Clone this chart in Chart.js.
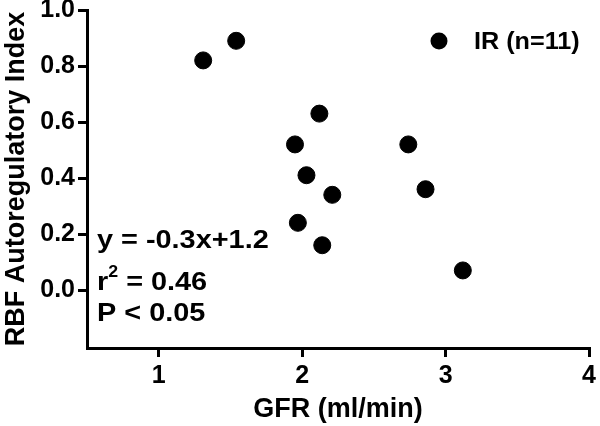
<!DOCTYPE html>
<html lang="en">
<head>
    <meta charset="UTF-8">
    <title>RBF Autoregulatory Index vs GFR</title>
    <script src="https://cdn.jsdelivr.net/npm/chart.js"></script>
    <style>
        html, body { margin: 0; padding: 0; background: #fff; }
        #chart { width: 600px; height: 426px; }
    </style>
</head>
<body>
    <div id="chart"><canvas id="canv" width="600" height="426"></canvas></div>
    <script>
        // values
        const gfr = [1.31, 1.54, 2.12, 1.95, 2.03, 2.21, 1.97, 2.14, 2.74, 2.86, 3.12]
        const rbfIndex = [0.82, 0.89, 0.63, 0.52, 0.41, 0.34, 0.24, 0.16, 0.52, 0.36, 0.07]
        const xTicks = [1, 2, 3, 4]
        const yTicks = [0.0, 0.2, 0.4, 0.6, 0.8, 1.0]
        const serieLabel = 'IR (n=11)'
        const statLines = ['y = -0.3x+1.2', 'r2 = 0.46', 'P < 0.05']

        const fuente = "'Liberation Sans', Arial, sans-serif"

        // draws text a bit wider, like the original figure
        function textoAncho(ctx, txt, x, y, escala) {
            ctx.save()
            ctx.translate(x, y)
            ctx.scale(escala, 1)
            ctx.fillText(txt, 0, 0)
            ctx.restore()
            return ctx.measureText(txt).width * escala
        }

        // legend + regression text, drawn inside the plot
        const textosPlugin = {
            id: 'textos',
            afterDraw(chart) {
                const ctx = chart.ctx
                ctx.save()
                ctx.fillStyle = '#000'
                // legend
                ctx.beginPath()
                ctx.arc(439, 41, 8.5, 0, Math.PI * 2)
                ctx.fill()
                ctx.font = 'bold 24px ' + fuente
                ctx.textBaseline = 'middle'
                ctx.textAlign = 'left'
                textoAncho(ctx, serieLabel, 474, 42, 1.05)

                // stats
                ctx.font = 'bold 26px ' + fuente
                textoAncho(ctx, statLines[0], 97, 241, 1.11)
                // r^2 with superscript
                let w = textoAncho(ctx, 'r', 97, 283, 1.11)
                ctx.font = 'bold 16px ' + fuente
                let w2 = textoAncho(ctx, '2', 97 + w, 273, 1.11)
                ctx.font = 'bold 26px ' + fuente
                textoAncho(ctx, statLines[1].slice(2), 97 + w + w2, 283, 1.11)
                textoAncho(ctx, statLines[2], 97, 314, 1.11)
                ctx.restore()
            }
        }

        const data = {
            datasets: [{
                label: serieLabel,
                data: gfr.map((x, i) => ({ x: x, y: rbfIndex[i] })),
                backgroundColor: '#000',
                borderColor: '#000',
                pointRadius: 8.5,
                pointHoverRadius: 8.5,
                showLine: false
            }]
        }

        const config = {
            type: 'scatter',
            data: data,
            options: {
                responsive: false,
                animation: false,
                layout: { padding: { top: 10, right: 7, left: 0, bottom: 0 } },
                plugins: { legend: { display: false }, tooltip: { enabled: false } },
                scales: {
                    x: {
                        type: 'linear',
                        min: 0.5,
                        max: 4,
                        afterBuildTicks: (scale) => { scale.ticks = xTicks.map(v => ({ value: v })) },
                        border: { color: '#000', width: 3 },
                        grid: { drawOnChartArea: false, color: '#000', lineWidth: 3, tickLength: 9 },
                        ticks: {
                            color: '#000',
                            font: { family: fuente, size: 25, weight: 'bold' },
                            padding: 4
                        },
                        title: {
                            display: true,
                            text: 'GFR (ml/min)',
                            color: '#000',
                            font: { family: fuente, size: 27, weight: 'bold' },
                            padding: { top: 0, bottom: 0 }
                        },
                        afterFit: (scale) => { scale.height = 78 }
                    },
                    y: {
                        type: 'linear',
                        min: -0.207,
                        max: 1.0,
                        afterBuildTicks: (scale) => { scale.ticks = yTicks.map(v => ({ value: v })) },
                        border: { color: '#000', width: 3 },
                        grid: { drawOnChartArea: false, color: '#000', lineWidth: 3, tickLength: 9 },
                        ticks: {
                            color: '#000',
                            font: { family: fuente, size: 25, weight: 'bold' },
                            padding: 3,
                            callback: (v) => v.toFixed(1)
                        },
                        title: {
                            display: true,
                            text: 'RBF Autoregulatory Index',
                            color: '#000',
                            font: { family: fuente, size: 27, weight: 'bold' },
                            padding: { top: 0, bottom: 2 }
                        },
                        afterFit: (scale) => {
                            scale.width = 87
                            scale.paddingTop = 0
                            scale.paddingBottom = 0
                        }
                    }
                }
            },
            plugins: [textosPlugin]
        }

        const chart = new Chart(document.getElementById('canv').getContext('2d'), config)
    </script>
</body>
</html>
